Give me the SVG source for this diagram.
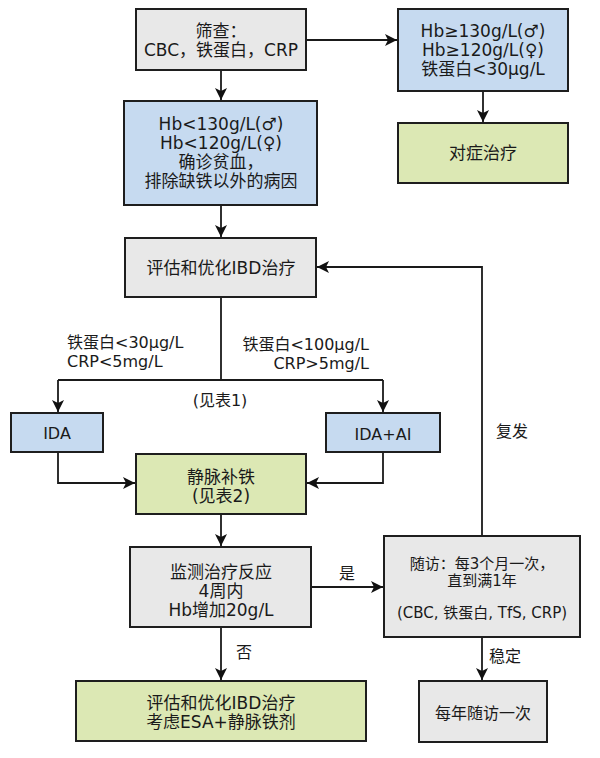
<svg xmlns="http://www.w3.org/2000/svg" width="600" height="758" viewBox="0 0 600 758">
<defs>
<style>
text{font-family:'DejaVu Sans','Noto Sans CJK SC',sans-serif;font-size:17px;fill:#1a1a1a;text-anchor:middle}
.lbl{font-size:16px}
.sm{font-size:15px}
.st{text-anchor:start}
.en{text-anchor:end}
rect{stroke:#1e1e1e;stroke-width:2}
.gray{fill:#e8e8e8}
.blue{fill:#c6daf0}
.green{fill:#dce8b4}
.edge{fill:none;stroke:#1a1a1a;stroke-width:1.8}
</style>
<marker id="ah" markerUnits="userSpaceOnUse" markerWidth="13" markerHeight="13" refX="12" refY="6" orient="auto">
<path d="M0,0 L12,6 L0,12 L3,6 z" fill="#111"/>
</marker>
</defs>
<rect width="600" height="758" fill="#ffffff" style="stroke:none"/>
<g id="connectors">
<path class="edge" d="M306,40 H397" marker-end="url(#ah)"/>
<path class="edge" d="M221,70 V100" marker-end="url(#ah)"/>
<path class="edge" d="M483,91 V122" marker-end="url(#ah)"/>
<path class="edge" d="M221,205 V237" marker-end="url(#ah)"/>
<path class="edge" d="M221,297 V380"/>
<path class="edge" d="M58,380 H383"/>
<path class="edge" d="M58,380 V412" marker-end="url(#ah)"/>
<path class="edge" d="M383,380 V412" marker-end="url(#ah)"/>
<path class="edge" d="M58,452 V483 H135" marker-end="url(#ah)"/>
<path class="edge" d="M383,452 V483 H307" marker-end="url(#ah)"/>
<path class="edge" d="M221,514 V546" marker-end="url(#ah)"/>
<path class="edge" d="M311,587 H383" marker-end="url(#ah)"/>
<path class="edge" d="M221,627 V680" marker-end="url(#ah)"/>
<path class="edge" d="M482,536 V267 H317" marker-end="url(#ah)"/>
<path class="edge" d="M482,637 V680" marker-end="url(#ah)"/>
<text class="lbl st" x="67" y="348">铁蛋白&lt;30μg/L</text>
<text class="lbl st" x="67" y="367">CRP&lt;5mg/L</text>
<text class="lbl en" x="369" y="350">铁蛋白&lt;100μg/L</text>
<text class="lbl en" x="369" y="369">CRP&gt;5mg/L</text>
<text class="lbl" x="220" y="406">(见表1)</text>
<text class="lbl st" x="496" y="437">复发</text>
<text class="lbl" x="347" y="579">是</text>
<text class="lbl st" x="236" y="658">否</text>
<text class="lbl st" x="489" y="662">稳定</text>
</g>
<g id="screening">
<rect class="gray" x="136" y="9" width="170" height="61"/>
<text x="221" y="37">筛查：</text>
<text x="221" y="56">CBC，铁蛋白，CRP</text>
</g>
<g id="normal">
<rect class="blue" x="398" y="9" width="170" height="82"/>
<text x="483" y="37">Hb≥130g/L(♂)</text>
<text x="483" y="56">Hb≥120g/L(♀)</text>
<text x="483" y="75">铁蛋白&lt;30μg/L</text>
</g>
<g id="symptomatic">
<rect class="green" x="398" y="123" width="170" height="60"/>
<text x="483" y="159">对症治疗</text>
</g>
<g id="anemia">
<rect class="blue" x="124" y="101" width="193" height="104"/>
<text x="221" y="130">Hb&lt;130g/L(♂)</text>
<text x="221" y="149">Hb&lt;120g/L(♀)</text>
<text x="221" y="168">确诊贫血，</text>
<text x="221" y="187">排除缺铁以外的病因</text>
</g>
<g id="assess">
<rect class="gray" x="125" y="238" width="191" height="59"/>
<text x="221" y="274">评估和优化IBD治疗</text>
</g>
<g id="ida">
<rect class="blue" x="11" y="413" width="92" height="39"/>
<text class="lbl" x="57" y="439">IDA</text>
</g>
<g id="ida-ai">
<rect class="blue" x="326" y="413" width="114" height="39"/>
<text class="lbl" x="383" y="440">IDA+AI</text>
</g>
<g id="iv-iron">
<rect class="green" x="136" y="454" width="170" height="60"/>
<text x="221" y="483">静脉补铁</text>
<text x="221" y="502">(见表2)</text>
</g>
<g id="monitor">
<rect class="gray" x="130" y="547" width="181" height="80"/>
<text x="221" y="578">监测治疗反应</text>
<text x="221" y="597">4周内</text>
<text x="221" y="616">Hb增加20g/L</text>
</g>
<g id="followup">
<rect class="gray" x="384" y="536" width="196" height="101"/>
<text class="sm" x="482" y="569">随访：每3个月一次，</text>
<text class="sm" x="482" y="586">直到满1年</text>
<text class="sm" x="482" y="618">(CBC, 铁蛋白, TfS, CRP)</text>
</g>
<g id="yearly">
<rect class="gray" x="419" y="681" width="128" height="61"/>
<text class="lbl" x="483" y="719">每年随访一次</text>
</g>
<g id="esa">
<rect class="green" x="76" y="681" width="290" height="60"/>
<text x="221" y="709">评估和优化IBD治疗</text>
<text x="221" y="728">考虑ESA+静脉铁剂</text>
</g>
</svg>
